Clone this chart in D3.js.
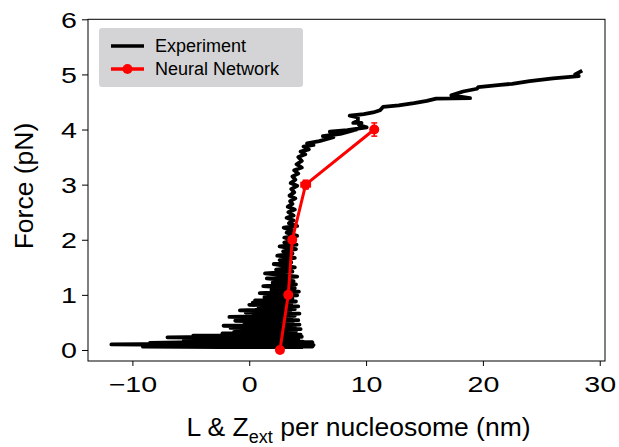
<!DOCTYPE html>
<html>
<head>
<meta charset="utf-8">
<script src="https://cdn.jsdelivr.net/npm/d3@7"></script>
<style>
  body { margin: 0; background: #fff; }
  text { font-family: "Liberation Sans", Arial, Helvetica, sans-serif; fill: #000; }
</style>
</head>
<body>
<div id="d3-container"></div>
<script>
/* CONSTANTS AND GLOBALS */
const width = 619,
  height = 447,
  margin = { top: 19.3, bottom: 86, left: 88, right: 14 };

// experiment trace (extension in nm, force in pN) in time order
const expX = [4.6, -2.5, -9.1, -3.0, 5.4, 5.5, -4.0, -11.8, -6.5, 5.3, 5.4, -3.5, -8.5, -2.0, 4.6,
  -5.6, 0.5, 4.2, -4.2, 3.8, -7.0, -2.0, 4.5, -4.8, 2.5, 4.4, -2.3, 3.6, -1.3, 4.0, -0.8, 4.4,
  -1.6, 3.9, -2.2, 2.8, 4.3, -0.4, 3.7, -1.2, 4.2, -0.2, 3.6, -1.7, 3.9, 0.4, 4.3, -0.3, 3.5,
  -0.8, 3.9, 0.8, 4.2, 0.0, 3.6, 0.3, 4.0, 0.5, 3.7, 1.3, 4.1, 0.9, 4.25,
  1.9, 3.9, 1.2, 4.0, 2.0, 3.8, 1.5, 4.1, 1.35, 3.7, 2.3, 3.9, 2.1, 3.6, 2.6, 3.9, 2.4, 3.7,
  2.9, 4.0, 2.6, 4.05, 3.0, 3.7, 3.0, 4.1, 3.2, 3.7, 2.95, 4.1, 3.4, 3.8, 3.2, 3.8, 3.35, 3.9,
  3.3, 3.7, 3.5, 3.95, 3.45, 3.85, 3.6, 4.1, 3.55, 3.95, 3.7, 4.2, 3.85, 4.5, 4.05, 4.5, 4.2, 4.8,
  4.4, 5.1, 4.65, 5.5, 4.95, 6.0, 7.2, 6.3, 7.8, 9.2, 6.9, 8.4, 10.05, 9.4, 9.6, 8.9, 9.3, 9.3,
  8.6, 9.8, 10.6, 11.2, 11.45, 12.8, 14.1, 15.2, 16.0, 18.9, 17.3, 18.3, 19.5, 19.6, 21.5,
  22.5, 24.0, 26.0, 28.2, 27.9, 28.5];
const expF = [0.05, 0.05, 0.06, 0.07, 0.06, 0.09, 0.09, 0.10, 0.11, 0.12, 0.14, 0.13, 0.13, 0.15, 0.15,
  0.17, 0.18, 0.19, 0.20, 0.21, 0.23, 0.24, 0.24, 0.26, 0.27, 0.28, 0.30, 0.31, 0.33, 0.34, 0.36, 0.38,
  0.40, 0.41, 0.44, 0.45, 0.46, 0.48, 0.50, 0.53, 0.54, 0.56, 0.58, 0.60, 0.62, 0.64, 0.66, 0.68, 0.70,
  0.72, 0.74, 0.77, 0.79, 0.82, 0.84, 0.86, 0.88, 0.90, 0.93, 0.96, 0.99, 1.03, 1.06,
  1.09, 1.12, 1.16, 1.19, 1.22, 1.25, 1.30, 1.33, 1.39, 1.42, 1.46, 1.50, 1.56, 1.59, 1.63, 1.67, 1.71, 1.75,
  1.79, 1.83, 1.88, 1.91, 1.95, 1.99, 2.04, 2.07, 2.13, 2.17, 2.22, 2.25, 2.30, 2.35, 2.40, 2.44, 2.50, 2.55,
  2.60, 2.65, 2.70, 2.75, 2.80, 2.86, 2.92, 2.98, 3.03, 3.09, 3.15, 3.20, 3.26, 3.31, 3.37, 3.43, 3.50, 3.55,
  3.60, 3.64, 3.69, 3.72, 3.75, 3.79, 3.86, 3.88, 3.92, 4.00, 3.96, 3.99, 4.04, 4.08, 4.12, 4.12, 4.16, 4.22,
  4.25, 4.28, 4.31, 4.35, 4.41, 4.44, 4.48, 4.52, 4.56, 4.57, 4.62, 4.69, 4.74, 4.77, 4.81,
  4.83, 4.88, 4.93, 4.97, 5.00, 5.07];

// neural network prediction with error bars
const nnX = [2.63, 3.34, 3.68, 4.83, 10.7];
const nnF = [0, 1, 2, 3, 4];
const nnXerr = [0.1, 0.1, 0.15, 0.4, 0.2];
const nnYerr = [0.02, 0.03, 0.05, 0.08, 0.12];

const xTicks = [-10, 0, 10, 20, 30];
const yTicks = [0, 1, 2, 3, 4, 5, 6];
const legendLabels = ["Experiment", "Neural Network"];

let svg, xScale, yScale;

/* INIT */
function init() {
  xScale = d3.scaleLinear()
    .domain([-13.8, 30.45])
    .range([margin.left, width - margin.right]);

  yScale = d3.scaleLinear()
    .domain([-0.2, 6])
    .range([height - margin.bottom, margin.top]);

  svg = d3.select("#d3-container")
    .append("svg")
    .attr("width", width)
    .attr("height", height);

  const fmt = d3.format("d");
  const xAxis = d3.axisBottom(xScale).tickValues(xTicks).tickFormat(fmt).tickSize(5).tickPadding(4);
  const yAxis = d3.axisLeft(yScale).tickValues(yTicks).tickFormat(fmt).tickSize(6).tickPadding(5);

  const gx = svg.append("g")
    .attr("class", "axis x-axis")
    .attr("transform", `translate(0,${height - margin.bottom})`)
    .call(xAxis);
  gx.select(".domain").remove();
  gx.selectAll("line").attr("stroke", "#000").attr("stroke-width", 1);
  gx.selectAll("text")
    .attr("font-size", 22)
    .attr("font-family", "Liberation Sans, Arial, sans-serif")
    .attr("y", 15.5)
    .attr("dy", "0.71em")
    .attr("transform", "scale(1.3,1)");

  const gy = svg.append("g")
    .attr("class", "axis y-axis")
    .attr("transform", `translate(${margin.left},0)`)
    .call(yAxis);
  gy.select(".domain").remove();
  gy.selectAll("line").attr("stroke", "#000").attr("stroke-width", 1);
  gy.selectAll("text")
    .attr("font-size", 22)
    .attr("font-family", "Liberation Sans, Arial, sans-serif")
    .attr("x", -11 / 1.3)
    .attr("dy", "0.36em")
    .attr("transform", "scale(1.3,1)");

  // frame
  svg.append("rect")
    .attr("x", margin.left)
    .attr("y", margin.top)
    .attr("width", width - margin.right - margin.left)
    .attr("height", height - margin.bottom - margin.top)
    .attr("fill", "none")
    .attr("stroke", "#000")
    .attr("stroke-width", 1);

  // axis labels
  const xl = svg.append("text")
    .attr("x", (margin.left + width - margin.right) / 2 + 12)
    .attr("y", 436)
    .attr("text-anchor", "middle")
    .attr("font-size", 26.5);
  xl.append("tspan").text("L & Z");
  xl.append("tspan").text("ext").attr("font-size", 18).attr("dy", 7);
  xl.append("tspan").text(" per nucleosome (nm)").attr("dy", -7);

  svg.append("text")
    .attr("transform", `translate(33,186) rotate(-90)`)
    .attr("text-anchor", "middle")
    .attr("font-size", 26.5)
    .text("Force (pN)");

  draw();
}

/* DRAW */
function draw() {
  const expData = expX.map((x, i) => ({ x: x, f: expF[i] }));
  const nnData = nnX.map((x, i) => ({ x: x, f: nnF[i], xe: nnXerr[i], ye: nnYerr[i] }));

  const line = d3.line()
    .x(d => xScale(d.x))
    .y(d => yScale(d.f));

  svg.append("path")
    .datum(expData)
    .attr("d", line)
    .attr("fill", "none")
    .attr("stroke", "#000")
    .attr("stroke-width", 3.8)
    .attr("stroke-linejoin", "round");

  svg.append("path")
    .datum(nnData)
    .attr("d", line)
    .attr("fill", "none")
    .attr("stroke", "#ff0000")
    .attr("stroke-width", 3);

  // error bars
  const eb = svg.selectAll("g.errbar")
    .data(nnData)
    .join("g")
    .attr("class", "errbar")
    .attr("stroke", "#ff0000")
    .attr("stroke-width", 1.5);
  eb.append("line")
    .attr("x1", d => xScale(d.x - d.xe)).attr("x2", d => xScale(d.x + d.xe))
    .attr("y1", d => yScale(d.f)).attr("y2", d => yScale(d.f));
  eb.append("line")
    .attr("x1", d => xScale(d.x)).attr("x2", d => xScale(d.x))
    .attr("y1", d => yScale(d.f - d.ye)).attr("y2", d => yScale(d.f + d.ye));
  eb.selectAll("line.cap")
    .data(d => [
      [xScale(d.x) - 3, xScale(d.x) + 3, yScale(d.f - d.ye), yScale(d.f - d.ye)],
      [xScale(d.x) - 3, xScale(d.x) + 3, yScale(d.f + d.ye), yScale(d.f + d.ye)],
      [xScale(d.x - d.xe), xScale(d.x - d.xe), yScale(d.f) - 3, yScale(d.f) + 3],
      [xScale(d.x + d.xe), xScale(d.x + d.xe), yScale(d.f) - 3, yScale(d.f) + 3]
    ])
    .join("line")
    .attr("class", "cap")
    .attr("x1", c => c[0]).attr("x2", c => c[1])
    .attr("y1", c => c[2]).attr("y2", c => c[3]);

  svg.selectAll("circle.nn")
    .data(nnData)
    .join("circle")
    .attr("class", "nn")
    .attr("cx", d => xScale(d.x))
    .attr("cy", d => yScale(d.f))
    .attr("r", 5)
    .attr("fill", "#ff0000");

  // legend
  const lg = svg.append("g").attr("class", "legend");
  lg.append("rect")
    .attr("x", 99).attr("y", 28)
    .attr("width", 204).attr("height", 59)
    .attr("rx", 3)
    .attr("fill", "#d4d4d6");
  const colors = ["#000", "#ff0000"];
  legendLabels.forEach((lab, i) => {
    const cy = 46 + i * 23;
    lg.append("line")
      .attr("x1", 111).attr("x2", 144)
      .attr("y1", cy).attr("y2", cy)
      .attr("stroke", colors[i])
      .attr("stroke-width", 3.5);
    if (i === 1) {
      lg.append("circle").attr("cx", 127.5).attr("cy", cy).attr("r", 5).attr("fill", colors[i]);
    }
    lg.append("text")
      .attr("x", 155)
      .attr("y", cy + 6.3)
      .attr("font-size", 18)
      .text(lab);
  });
}

init();
</script>
</body>
</html>
